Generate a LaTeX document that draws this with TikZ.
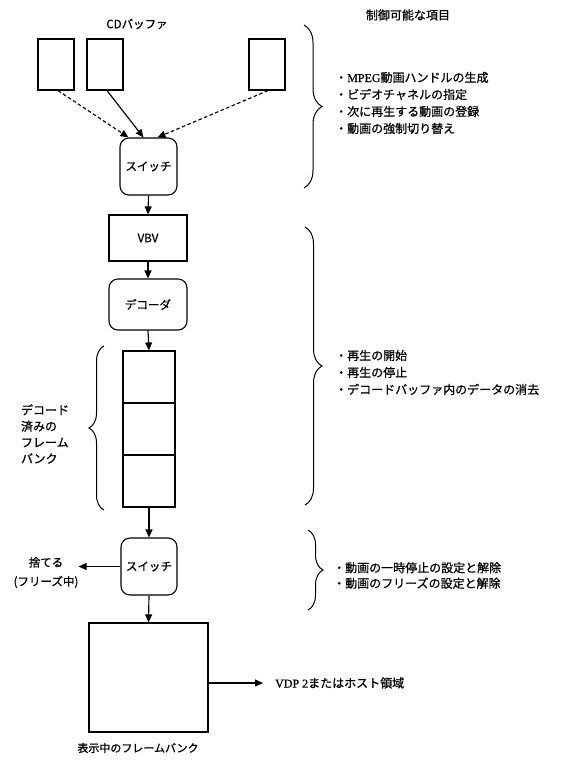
\documentclass[tikz,border=0pt]{standalone}
\usepackage{fontspec}
\setmainfont{Noto Sans CJK JP}[FakeBold=0.7]
\newfontfamily\lserif{Liberation Serif}[FakeBold=0.4]
\usetikzlibrary{arrows.meta,decorations.pathreplacing}
\begin{document}
\begin{tikzpicture}[x=1pt,y=-1pt,
  blk/.style={draw,line width=1.15pt,inner sep=0pt,font=\fontsize{11.5}{13}\selectfont},
  rnd/.style={blk,rounded corners=9pt},
  arr/.style={line width=1.15pt,-{Triangle[length=8pt,width=7pt]}},
  darr/.style={arr,dash pattern=on 3.5pt off 2.5pt},
  brc/.style={decorate,decoration={brace,amplitude=#1},line width=1pt},
  lbl/.style={inner sep=0pt,font=\fontsize{11.5}{13}\selectfont},
  items/.style={inner sep=0pt,anchor=west,align=left,font=\fontsize{12}{17}\selectfont}]
\fill[white] (0,0) rectangle (560,763);
\useasboundingbox (0,0) rectangle (560,763);
% top buffers
\node[lbl] (cdl) at (137,24) {CDバッファ};
\node[blk,minimum width=36pt,minimum height=51pt] (b1) at (56,64.5) {};
\node[blk,minimum width=36pt,minimum height=51pt] (b2) at (105,64.5) {};
\node[blk,minimum width=36pt,minimum height=51pt] (b3) at (267,64.5) {};
\node[rnd,minimum width=57pt,minimum height=57pt] (sw1) at (148.5,166.5) {スイッチ};
\draw[darr] ([xshift=2pt]b1.south) -- ([xshift=-20pt]sw1.north);
\draw[arr] ([xshift=2pt]b2.south) -- ([xshift=-5pt]sw1.north);
\draw[darr] ([xshift=1pt]b3.south) -- ([xshift=9pt]sw1.north);
% chain
\node[blk,minimum width=78pt,minimum height=46pt] (vbv) at (148,238) {VBV};
\node[rnd,minimum width=78pt,minimum height=51pt] (dec) at (148,304.5) {デコーダ};
\node[blk,minimum width=52pt,minimum height=52pt] (fb1) at (149,377) {};
\node[blk,minimum width=52pt,minimum height=52pt] (fb2) at (149,429) {};
\node[blk,minimum width=52pt,minimum height=52pt] (fb3) at (149,481) {};
\node[rnd,minimum width=56pt,minimum height=57pt] (sw2) at (149,566.5) {スイッチ};
\node[blk,minimum width=119pt,minimum height=109pt] (big) at (148.5,677.5) {};
\draw[arr] (sw1.south) -- (vbv.north);
\draw[arr] (vbv.south) -- (dec.north);
\draw[arr] (dec.south) -- (fb1.north);
\draw[arr] (fb3.south) -- (sw2.north);
\draw[arr] (sw2.south) -- (big.north);
% left labels
\node[inner sep=0pt,align=left,font=\fontsize{12}{16.2}\selectfont] (fbl) at (45,434) {デコード\\済みの\\フレーム\\バンク};
\draw[brc=15pt] (104,510) -- (104,346);
\node[inner sep=0pt,align=center,font=\fontsize{11.5}{19}\selectfont] (disc) at (46,572.5) {捨てる\\(フリーズ中)};
\draw[arr] (sw2.west) -- (sw2.west -| disc.east);
\node[lbl,font=\fontsize{11}{13}\selectfont] (bigl) at (138,748) {表示中のフレームバンク};
\node[inner sep=0pt,anchor=west,font=\fontsize{12}{14}\selectfont] (vdp) at (275,683) {{\lserif VDP 2}またはホスト領域};
\draw[arr,shorten >=12pt] ([yshift=-5.5pt]big.east) -- ([yshift=-5.5pt]big.east -| vdp.west);
% right side
\node[lbl,font=\fontsize{12}{14}\selectfont] (ctl) at (408,15) {制御可能な項目};
\draw[brc=18pt] (304,25) -- (304,188);
\node[items] (it1) at (335,103) {・{\lserif MPEG}動画ハンドルの生成\\・ビデオチャネルの指定\\・次に再生する動画の登録\\・動画の強制切り替え};
\draw[brc=17pt] (305,227) -- (305,505);
\node[items] (it2) at (335,372.5) {・再生の開始\\・再生の停止\\・デコードバッファ内のデータの消去};
\draw[brc=15pt] (308,530) -- (308,610);
\node[items,font=\fontsize{12}{15.5}\selectfont] (it3) at (333,575.5) {・動画の一時停止の設定と解除\\・動画のフリーズの設定と解除};
\end{tikzpicture}
\end{document}
